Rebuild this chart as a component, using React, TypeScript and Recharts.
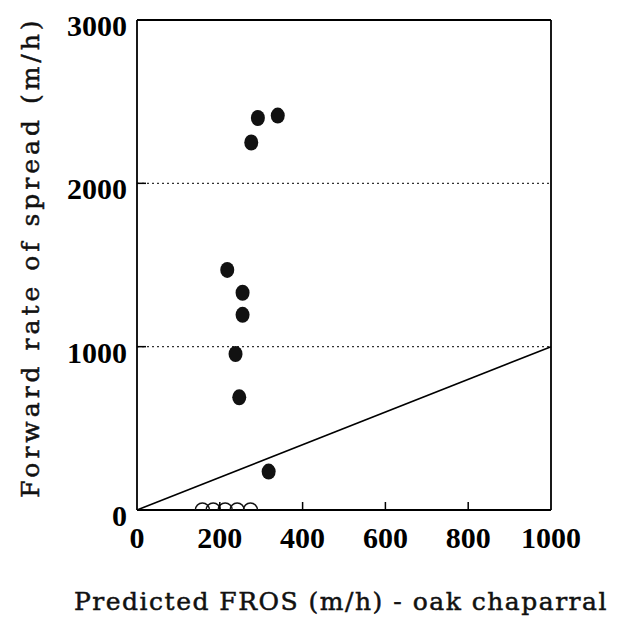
import React from "react";
import {
  ScatterChart,
  Scatter,
  XAxis,
  YAxis,
  ReferenceLine,
  Label,
} from "recharts";

// observed vs predicted forward rate of spread, oak chaparral
const observedFires = [
  { x: 292, y: 2400 },
  { x: 340, y: 2415 },
  { x: 276, y: 2250 },
  { x: 218, y: 1470 },
  { x: 255, y: 1330 },
  { x: 255, y: 1195 },
  { x: 238, y: 955 },
  { x: 247, y: 690 },
  { x: 318, y: 235 },
];

// fires that did not spread (open symbols)
const noSpreadFires = [
  { x: 158, y: 0 },
  { x: 184, y: 0 },
  { x: 213, y: 0 },
  { x: 242, y: 0 },
  { x: 274, y: 0 },
];

const oneToOne = [
  { x: 0, y: 0 },
  { x: 1000, y: 1000 },
];

const xTicks = [0, 200, 400, 600, 800, 1000];
const yTicks = [0, 1000, 2000, 3000];
const dottedLevels = [1000, 2000];

const tickFont = "'Liberation Serif', 'Times New Roman', serif";
const labelFont = "'DejaVu Serif', serif";
const TICK_MARGIN = 10;

const XTick = (props: any) => {
  const { x, y, payload } = props;
  const axisY = y - TICK_MARGIN;
  const inner = payload.value > 0 && payload.value < 1000;
  return (
    <g>
      {inner && (
        <line x1={x} x2={x} y1={axisY} y2={axisY - 8} stroke="#000" strokeWidth={1.5} />
      )}
      <text
        x={x}
        y={axisY + 38}
        textAnchor="middle"
        fontFamily={tickFont}
        fontWeight="bold"
        fontSize={30}
        fill="#000"
      >
        {payload.value}
      </text>
    </g>
  );
};

const YTick = (props: any) => {
  const { x, y, payload } = props;
  const axisX = x + TICK_MARGIN;
  const inner = payload.value > 0 && payload.value < 3000;
  return (
    <g>
      {inner && (
        <line x1={axisX} x2={axisX + 9} y1={y} y2={y} stroke="#000" strokeWidth={1.5} />
      )}
      <text
        x={axisX - 10}
        y={y + 16}
        textAnchor="end"
        fontFamily={tickFont}
        fontWeight="bold"
        fontSize={30}
        fill="#000"
      >
        {payload.value}
      </text>
    </g>
  );
};

const FilledDot = (props: any) => (
  <ellipse cx={props.cx} cy={props.cy} rx={7} ry={8} fill="#111" />
);

const OpenDot = (props: any) => (
  <circle cx={props.cx} cy={props.cy} r={7} fill="none" stroke="#111" strokeWidth={1.6} />
);

export default function App() {
  return (
    <div style={{ position: "absolute", left: 0, top: 0, background: "#fff" }}>
      <ScatterChart
        width={619}
        height={618}
        margin={{ top: 20, right: 68, bottom: 0, left: 0 }}
      >
        <XAxis
          type="number"
          dataKey="x"
          domain={[0, 1000]}
          ticks={xTicks}
          height={108}
          tickSize={0}
          tickMargin={TICK_MARGIN}
          tickLine={false}
          tick={<XTick />}
          axisLine={{ stroke: "#000", strokeWidth: 1.8 }}
          allowDataOverflow
        >
          <Label
            content={(p: any) => (
              <text
                x={p.viewBox.x + p.viewBox.width / 2 - 3}
                y={p.viewBox.y + 100}
                textAnchor="middle"
                fontFamily={labelFont}
                fontSize={25}
                letterSpacing={1.5}
                fill="#111"
                stroke="#111"
                strokeWidth={0.5}
              >
                Predicted FROS (m/h) - oak chaparral
              </text>
            )}
          />
        </XAxis>
        <YAxis
          type="number"
          dataKey="y"
          domain={[0, 3000]}
          ticks={yTicks}
          width={137}
          tickSize={0}
          tickMargin={TICK_MARGIN}
          tickLine={false}
          tick={<YTick />}
          axisLine={{ stroke: "#000", strokeWidth: 1.8 }}
          allowDataOverflow
        >
          <Label
            content={() => (
              <text
                x={30}
                y={257}
                transform="rotate(-90 30 257)"
                textAnchor="middle"
                dominantBaseline="central"
                fontFamily={labelFont}
                fontSize={25}
                letterSpacing={4}
                fill="#111"
                stroke="#111"
                strokeWidth={0.5}
              >
                Forward rate of spread (m/h)
              </text>
            )}
          />
        </YAxis>
        {dottedLevels.map((v) => (
          <ReferenceLine
            key={v}
            y={v}
            stroke="#333"
            strokeWidth={1.3}
            strokeDasharray="2 3"
          />
        ))}
        <ReferenceLine y={3000} stroke="#000" strokeWidth={1.8} />
        <ReferenceLine x={1000} stroke="#000" strokeWidth={1.8} />
        <ReferenceLine
          segment={oneToOne}
          stroke="#000"
          strokeWidth={1.6}
          ifOverflow="visible"
        />
        <Scatter
          data={noSpreadFires}
          shape={<OpenDot />}
          isAnimationActive={false}
        />
        <Scatter
          data={observedFires}
          shape={<FilledDot />}
          isAnimationActive={false}
        />
      </ScatterChart>
    </div>
  );
}
